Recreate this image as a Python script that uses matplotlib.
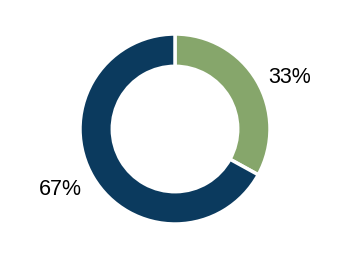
import matplotlib.pyplot as plt
import numpy as np

labels = ["33%", "67%"]
values = [33, 67]
colors = ["#86a66b", "#0b3a5e"]

plt.rcParams["font.family"] = ["Liberation Sans", "DejaVu Sans"]

fig = plt.figure(figsize=(3.48, 2.6), dpi=100)
ax = fig.add_axes([80 / 348, (260 - 129 - 95) / 260, 190 / 348, 190 / 260])

wedges, _ = ax.pie(values, colors=colors, startangle=90, counterclock=False,
                   radius=1, wedgeprops=dict(width=0.34, edgecolor="white", linewidth=2.5))

# labels placed outside the ring at each wedge's middle angle
for w, lab in zip(wedges, labels):
    ang = np.deg2rad((w.theta1 + w.theta2) / 2)
    ax.text(1.4 * np.cos(ang), 1.16 * np.sin(ang) - 0.045, lab, ha="center", va="center",
            fontsize=15.5, color="black")

ax.set_xlim(-1, 1)
ax.set_ylim(-1, 1)
ax.set_aspect("equal")
ax.axis("off")

fig.savefig("out.png", dpi=100)
